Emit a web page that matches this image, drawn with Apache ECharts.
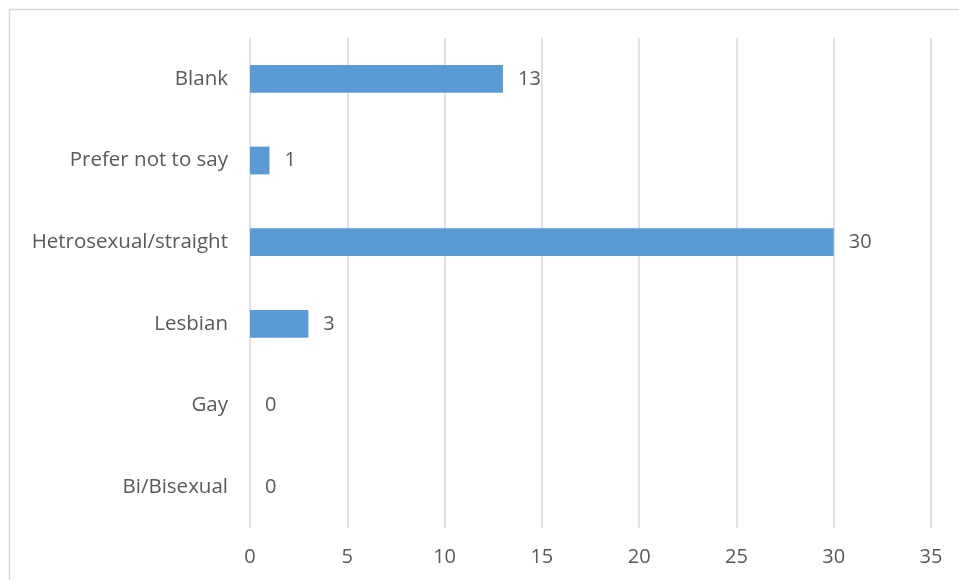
<!DOCTYPE html>
<html>
<head>
<meta charset="utf-8">
<script src="https://cdn.jsdelivr.net/npm/echarts@6/dist/echarts.min.js"></script>
<style>
  html, body { margin: 0; padding: 0; background: #fff; }
  #chart { width: 959px; height: 580px; }
</style>
</head>
<body>
<div id="chart"></div>
<script>
// categories listed bottom to top (category axis draws first item at the bottom)
const categories = ['Bi/Bisexual', 'Gay', 'Lesbian', 'Hetrosexual/straight', 'Prefer not to say', 'Blank'];
const counts = [0, 0, 3, 30, 1, 13];
const xTicks = [0, 5, 10, 15, 20, 25, 30, 35];

const textColor = '#595959';
const fontFamily = '"Open Sans", sans-serif';

const myChart = echarts.init(document.getElementById('chart'));
myChart.setOption({
  animation: false,
  textStyle: { fontFamily: fontFamily },
  grid: { left: 250, right: 28, top: 38, bottom: 52 },
  graphic: [{
    type: 'rect',
    shape: { x: 9.5, y: 9.5, width: 980, height: 600 },
    style: { fill: 'none', stroke: '#d9d9d9', lineWidth: 1.5 },
    silent: true,
  }],
  xAxis: {
    type: 'value',
    min: xTicks[0],
    max: xTicks[xTicks.length - 1],
    interval: 5,
    axisLine: { show: false },
    axisTick: { show: false },
    splitLine: { lineStyle: { color: '#d9d9d9', width: 1.5 } },
    axisLabel: { color: textColor, fontSize: 20, margin: 19, fontFamily: fontFamily },
  },
  yAxis: {
    type: 'category',
    data: categories,
    axisLine: { show: false },
    axisTick: { show: false },
    axisLabel: {
      color: textColor, fontSize: 20.5, margin: 22, fontFamily: fontFamily,
      padding: [4, 0, 0, 0],
    },
  },
  series: [{
    type: 'bar',
    data: counts,
    barCategoryGap: '66%',
    itemStyle: { color: '#5b9bd5' },
    label: {
      show: true,
      position: 'right',
      distance: 15,
      color: textColor,
      fontSize: 20,
      fontFamily: fontFamily,
      padding: [4, 0, 0, 0],
    },
  }],
});
</script>
</body>
</html>
